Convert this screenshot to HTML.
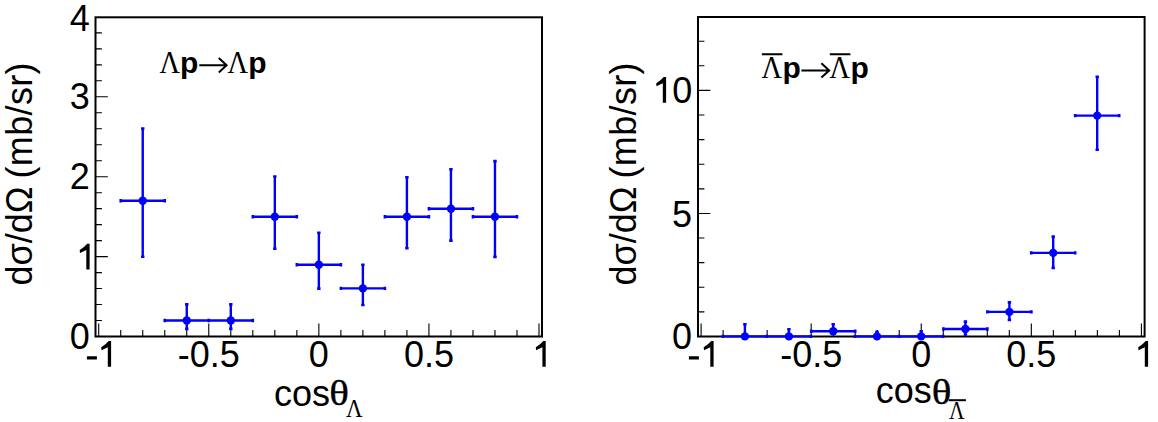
<!DOCTYPE html><html><head><meta charset="utf-8"><style>html,body{margin:0;padding:0;background:#fff;width:1158px;height:422px;overflow:hidden}svg{display:block}</style></head><body><svg width="1158" height="422" viewBox="0 0 1158 422" font-family="Liberation Sans, sans-serif">
<rect width="1158" height="422" fill="#fff"/>
<path d="M98.70 336.50V323.50M120.72 336.50V330.00M142.73 336.50V330.00M164.75 336.50V330.00M186.76 336.50V330.00M208.78 336.50V323.50M230.79 336.50V330.00M252.81 336.50V330.00M274.82 336.50V330.00M296.84 336.50V330.00M318.85 336.50V323.50M340.87 336.50V330.00M362.88 336.50V330.00M384.89 336.50V330.00M406.91 336.50V330.00M428.93 336.50V323.50M450.94 336.50V330.00M472.96 336.50V330.00M494.97 336.50V330.00M516.99 336.50V330.00M539.00 336.50V323.50M95.50 320.52H101.90M95.50 304.54H101.90M95.50 288.56H101.90M95.50 272.58H101.90M95.50 256.60H107.80M95.50 240.62H101.90M95.50 224.64H101.90M95.50 208.66H101.90M95.50 192.68H101.90M95.50 176.70H107.80M95.50 160.72H101.90M95.50 144.74H101.90M95.50 128.76H101.90M95.50 112.78H101.90M95.50 96.80H107.80M95.50 80.82H101.90M95.50 64.84H101.90M95.50 48.86H101.90M95.50 32.88H101.90" stroke="#000" stroke-width="1.1" fill="none"/>
<rect x="95.50" y="17.30" width="446.50" height="319.20" stroke="#000" stroke-width="2" fill="none"/>
<path d="M120.73 200.80H164.73M142.73 128.45V200.80M142.73 200.80V256.80M164.76 320.50H208.76M186.76 304.40V320.50M186.76 320.50V328.90M208.79 320.50H252.79M230.79 304.40V320.50M230.79 320.50V328.90M252.82 216.75H296.82M274.82 176.50V216.75M274.82 216.75V248.80M296.85 264.75H340.85M318.85 232.80V264.75M318.85 264.75V288.60M340.88 288.40H384.88M362.88 264.70V288.40M362.88 288.40V305.00M384.91 216.75H428.91M406.91 177.20V216.75M406.91 216.75V248.30M428.94 208.75H472.94M450.94 169.20V208.75M450.94 208.75V240.60M472.97 216.75H516.97M494.97 161.10V216.75M494.97 216.75V256.90" stroke="#0000ff" stroke-width="2.4" fill="none"/>
<path d="M119.43 199.10h2.6v3.4h-2.6zM163.43 199.10h2.6v3.4h-2.6zM141.03 127.15h3.4v2.6h-3.4zM141.03 255.50h3.4v2.6h-3.4zM163.46 318.80h2.6v3.4h-2.6zM207.46 318.80h2.6v3.4h-2.6zM185.06 303.10h3.4v2.6h-3.4zM185.06 327.60h3.4v2.6h-3.4zM207.49 318.80h2.6v3.4h-2.6zM251.49 318.80h2.6v3.4h-2.6zM229.09 303.10h3.4v2.6h-3.4zM229.09 327.60h3.4v2.6h-3.4zM251.52 215.05h2.6v3.4h-2.6zM295.52 215.05h2.6v3.4h-2.6zM273.12 175.20h3.4v2.6h-3.4zM273.12 247.50h3.4v2.6h-3.4zM295.55 263.05h2.6v3.4h-2.6zM339.55 263.05h2.6v3.4h-2.6zM317.15 231.50h3.4v2.6h-3.4zM317.15 287.30h3.4v2.6h-3.4zM339.58 286.70h2.6v3.4h-2.6zM383.58 286.70h2.6v3.4h-2.6zM361.18 263.40h3.4v2.6h-3.4zM361.18 303.70h3.4v2.6h-3.4zM383.61 215.05h2.6v3.4h-2.6zM427.61 215.05h2.6v3.4h-2.6zM405.21 175.90h3.4v2.6h-3.4zM405.21 247.00h3.4v2.6h-3.4zM427.64 207.05h2.6v3.4h-2.6zM471.64 207.05h2.6v3.4h-2.6zM449.24 167.90h3.4v2.6h-3.4zM449.24 239.30h3.4v2.6h-3.4zM471.67 215.05h2.6v3.4h-2.6zM515.67 215.05h2.6v3.4h-2.6zM493.27 159.80h3.4v2.6h-3.4zM493.27 255.60h3.4v2.6h-3.4z" fill="#0000ff"/>
<g fill="#0000ff"><circle cx="142.73" cy="200.80" r="4.2"/><circle cx="186.76" cy="320.50" r="4.2"/><circle cx="230.79" cy="320.50" r="4.2"/><circle cx="274.82" cy="216.75" r="4.2"/><circle cx="318.85" cy="264.75" r="4.2"/><circle cx="362.88" cy="288.40" r="4.2"/><circle cx="406.91" cy="216.75" r="4.2"/><circle cx="450.94" cy="208.75" r="4.2"/><circle cx="494.97" cy="216.75" r="4.2"/></g>
<text x="208.78" y="366.8" text-anchor="middle" font-size="36">-0.5</text>
<text x="318.85" y="366.8" text-anchor="middle" font-size="36">0</text>
<text x="428.93" y="366.8" text-anchor="middle" font-size="36">0.5</text>
<text x="89.9" y="349.0" text-anchor="end" font-size="36">0</text>
<text x="89.9" y="189.2" text-anchor="end" font-size="36">2</text>
<text x="89.9" y="109.3" text-anchor="end" font-size="36">3</text>
<text x="89.9" y="30.6" text-anchor="end" font-size="36">4</text>
<path d="M701.10 336.50V323.50M723.12 336.50V330.00M745.13 336.50V330.00M767.14 336.50V330.00M789.16 336.50V330.00M811.18 336.50V323.50M833.19 336.50V330.00M855.21 336.50V330.00M877.22 336.50V330.00M899.24 336.50V330.00M921.25 336.50V323.50M943.27 336.50V330.00M965.28 336.50V330.00M987.30 336.50V330.00M1009.31 336.50V330.00M1031.33 336.50V323.50M1053.34 336.50V330.00M1075.36 336.50V330.00M1097.37 336.50V330.00M1119.38 336.50V330.00M1141.40 336.50V323.50M698.00 311.89H704.40M698.00 287.28H704.40M698.00 262.67H704.40M698.00 238.06H704.40M698.00 213.45H710.30M698.00 188.84H704.40M698.00 164.23H704.40M698.00 139.62H704.40M698.00 115.01H704.40M698.00 90.40H710.30M698.00 65.79H704.40M698.00 41.18H704.40M698.00 16.57H704.40" stroke="#000" stroke-width="1.1" fill="none"/>
<rect x="698.00" y="17.00" width="446.60" height="319.50" stroke="#000" stroke-width="2" fill="none"/>
<path d="M722.90 336.40H766.90M744.90 324.30V336.40M766.90 336.40H810.90M788.90 329.20V336.40M811.20 331.20H855.20M833.20 324.30V331.20M855.00 336.40H899.00M877.00 331.70V336.40M899.20 336.40H943.20M921.20 331.20V336.40M943.40 329.00H987.40M965.40 321.60V329.00M965.40 329.00V334.50M987.40 311.90H1031.40M1009.40 302.40V311.90M1009.40 311.90V319.90M1031.20 252.90H1075.20M1053.20 236.60V252.90M1053.20 252.90V267.90M1075.20 115.60H1119.20M1097.20 76.70V115.60M1097.20 115.60V149.70" stroke="#0000ff" stroke-width="2.4" fill="none"/>
<path d="M721.60 334.70h2.6v3.4h-2.6zM765.60 334.70h2.6v3.4h-2.6zM743.20 323.00h3.4v2.6h-3.4zM765.60 334.70h2.6v3.4h-2.6zM809.60 334.70h2.6v3.4h-2.6zM787.20 327.90h3.4v2.6h-3.4zM809.90 329.50h2.6v3.4h-2.6zM853.90 329.50h2.6v3.4h-2.6zM831.50 323.00h3.4v2.6h-3.4zM853.70 334.70h2.6v3.4h-2.6zM897.70 334.70h2.6v3.4h-2.6zM875.30 330.40h3.4v2.6h-3.4zM897.90 334.70h2.6v3.4h-2.6zM941.90 334.70h2.6v3.4h-2.6zM919.50 329.90h3.4v2.6h-3.4zM942.10 327.30h2.6v3.4h-2.6zM986.10 327.30h2.6v3.4h-2.6zM963.70 320.30h3.4v2.6h-3.4zM963.70 333.20h3.4v2.6h-3.4zM986.10 310.20h2.6v3.4h-2.6zM1030.10 310.20h2.6v3.4h-2.6zM1007.70 301.10h3.4v2.6h-3.4zM1007.70 318.60h3.4v2.6h-3.4zM1029.90 251.20h2.6v3.4h-2.6zM1073.90 251.20h2.6v3.4h-2.6zM1051.50 235.30h3.4v2.6h-3.4zM1051.50 266.60h3.4v2.6h-3.4zM1073.90 113.90h2.6v3.4h-2.6zM1117.90 113.90h2.6v3.4h-2.6zM1095.50 75.40h3.4v2.6h-3.4zM1095.50 148.40h3.4v2.6h-3.4z" fill="#0000ff"/>
<g fill="#0000ff"><circle cx="744.90" cy="336.40" r="4.2"/><circle cx="788.90" cy="336.40" r="4.2"/><circle cx="833.20" cy="331.20" r="4.2"/><circle cx="877.00" cy="336.40" r="4.2"/><circle cx="921.20" cy="336.40" r="4.2"/><circle cx="965.40" cy="329.00" r="4.2"/><circle cx="1009.40" cy="311.90" r="4.2"/><circle cx="1053.20" cy="252.90" r="4.2"/><circle cx="1097.20" cy="115.60" r="4.2"/></g>
<text x="811.18" y="366.8" text-anchor="middle" font-size="36">-0.5</text>
<text x="921.25" y="366.8" text-anchor="middle" font-size="36">0</text>
<text x="1031.33" y="366.8" text-anchor="middle" font-size="36">0.5</text>
<text x="692" y="349.0" text-anchor="end" font-size="36">0</text>
<text x="692" y="226.55" text-anchor="end" font-size="36">5</text>
<text x="692.4" y="102.9" text-anchor="end" font-size="36">0</text>
<path d="M111.10 341.00V366.80H107.80V347.20L101.50 350.20L101.20 347.30Q105.60 344.80 108.70 341.00ZM545.70 341.00V366.80H542.40V347.20L536.10 350.20L535.80 347.30Q540.20 344.80 543.30 341.00ZM89.60 243.80V269.60H86.30V250.00L80.00 253.00L79.70 250.10Q84.10 247.60 87.20 243.80ZM713.60 341.00V366.80H710.30V347.20L704.00 350.20L703.70 347.30Q708.10 344.80 711.20 341.00ZM1148.10 341.00V366.80H1144.80V347.20L1138.50 350.20L1138.20 347.30Q1142.60 344.80 1145.70 341.00ZM666.10 77.00V102.80H662.80V83.20L656.50 86.20L656.20 83.30Q660.60 80.80 663.70 77.00ZM86.9 356.2h10v3.2h-10zM688.9 356.2h10v3.2h-10z" fill="#000"/>
<text transform="translate(159.5,72.6) scale(0.9,1)" font-size="31.5" font-family="Liberation Serif, serif">Λ</text>
<text x="180" y="72.6" font-size="30" font-weight="bold">p</text>
<path d="M199.3 65.3H225.6M218.79999999999998 58.099999999999994L226.6 65.3L218.79999999999998 72.5" stroke="#000" stroke-width="2" fill="none" stroke-linejoin="miter"/>
<text transform="translate(227.5,72.6) scale(0.9,1)" font-size="31.5" font-family="Liberation Serif, serif">Λ</text>
<text x="248.3" y="72.6" font-size="30" font-weight="bold">p</text>
<text transform="translate(761.5,77.7) scale(0.9,1)" font-size="31.5" font-family="Liberation Serif, serif">Λ</text>
<text x="782.5" y="77.7" font-size="30" font-weight="bold">p</text>
<path d="M801.4 70.4H828.2M821.4000000000001 63.2L829.2 70.4L821.4000000000001 77.60000000000001" stroke="#000" stroke-width="2" fill="none" stroke-linejoin="miter"/>
<text transform="translate(829.5,77.7) scale(0.9,1)" font-size="31.5" font-family="Liberation Serif, serif">Λ</text>
<text x="850.5" y="77.7" font-size="30" font-weight="bold">p</text>
<path d="M761.9 54.3H782.4M829.8 54.3H850.4" stroke="#000" stroke-width="2"/>
<text transform="translate(32.1,285.6) rotate(-90)" font-size="36">dσ/dΩ</text>
<text transform="translate(32.1,178.5) rotate(-90)" font-size="36" letter-spacing="0.35">(mb/sr)</text>
<text transform="translate(635.6,285.6) rotate(-90)" font-size="36">dσ/dΩ</text>
<text transform="translate(635.6,178.5) rotate(-90)" font-size="36" letter-spacing="0.35">(mb/sr)</text>
<text x="274" y="405.7" font-size="36">cos</text>
<text transform="translate(329.2,405.4) scale(1.13,1)" font-size="36.4" font-family="Liberation Serif, serif" stroke="#000" stroke-width="0.35">θ</text>
<text transform="translate(346,416.8) scale(0.88,1)" font-size="26" font-family="Liberation Serif, serif">Λ</text>
<text x="875.8" y="403.3" font-size="36">cos</text>
<text transform="translate(931.8,403.6) scale(1.13,1)" font-size="36.4" font-family="Liberation Serif, serif" stroke="#000" stroke-width="0.35">θ</text>
<text transform="translate(949,419) scale(0.86,1)" font-size="25" font-family="Liberation Serif, serif">Λ</text>
<path d="M948.7 400.2H965.9" stroke="#000" stroke-width="2"/>
</svg></body></html>
